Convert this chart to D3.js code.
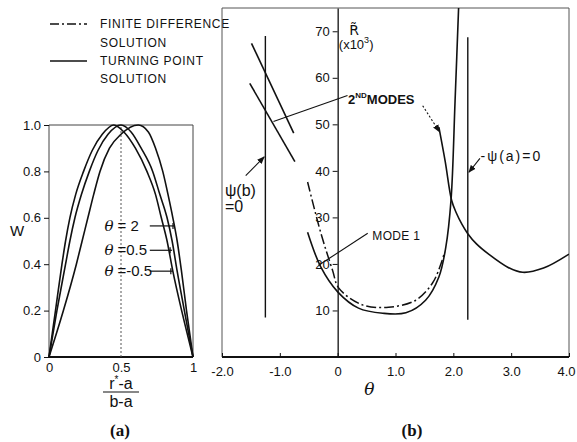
<!DOCTYPE html>
<html>
<head>
<meta charset="utf-8">
<script src="https://cdn.jsdelivr.net/npm/d3@7"></script>
<style>
body{margin:0;background:#fff;}
svg{display:block;font-family:"Liberation Sans",Arial,sans-serif;}
.tick text{font-size:13px;fill:#111;}
</style>
</head>
<body>
<div class="chart"></div>
<script>
//Data
//panel (a): W profiles [x=(r*-a)/(b-a), W]
const profileThetaNeg05 = [[0,0],[0.045,0.2],[0.09,0.4],[0.115,0.5],[0.145,0.6],[0.185,0.7],[0.24,0.8],[0.3,0.89],[0.37,0.96],[0.45,1.0],[0.52,0.97],[0.6,0.9],[0.68,0.8],[0.74,0.7],[0.78,0.6],[0.82,0.5],[0.86,0.37],[0.925,0.19],[1,0]];
const profileTheta05 = [[0,0],[0.055,0.2],[0.115,0.4],[0.145,0.5],[0.18,0.6],[0.225,0.7],[0.28,0.8],[0.34,0.89],[0.41,0.96],[0.5,1.0],[0.57,0.97],[0.64,0.9],[0.72,0.8],[0.77,0.7],[0.82,0.6],[0.855,0.5],[0.89,0.37],[0.94,0.2],[1,0]];
const profileTheta2 = [[0,0],[0.1,0.2],[0.19,0.4],[0.23,0.5],[0.27,0.6],[0.31,0.7],[0.354,0.8],[0.42,0.9],[0.5,0.96],[0.62,1.0],[0.69,0.97],[0.74,0.9],[0.79,0.8],[0.83,0.69],[0.86,0.6],[0.89,0.5],[0.92,0.37],[0.955,0.2],[1,0]];
const wTicks = [0,0.2,0.4,0.6,0.8,1.0];
const wTickLabels = ['0','0.2','0.4','0.6','0.8','1.0'];
const xTicksA = [0,0.5,1];
const xTickLabelsA = ['0','0.5','1'];

//panel (b): R (x10^3) against theta
const mode1Turning = [[-0.52,26.8],[-0.29,19.3],[0,14],[0.36,10.5],[0.78,9.4],[1.18,9.5],[1.52,12.2],[1.75,17.2],[1.87,23.6],[1.96,33.7],[2.03,55],[2.1,78]];
const mode1Finite = [[-0.52,37.6],[-0.29,26.6],[-0.09,18.7],[0.02,14.8],[0.43,11.2],[0.88,10.7],[1.35,12.2],[1.64,15.9],[1.78,19.8],[1.85,22.6]];
const secondModeRight = [[1.75,49.4],[1.86,42],[1.97,33.7],[2.05,31],[2.15,28.5],[2.25,26.5],[2.4,24.3],[2.6,22.2],[2.94,19.3],[3.2,18.2],[3.56,19.1],[4.0,22.1]];
const secondModeLeftUpper = [[-1.49,67.4],[-0.76,48.1]];
const secondModeLeftLower = [[-1.52,58.8],[-0.74,42]];
const psiBLine = [[-1.25,8.5],[-1.25,69]];
const psiALine = [[2.25,8],[2.25,68.7]];
const thetaTicks = [-2,-1,0,1,2,3,4];
const thetaTickLabels = ['-2.0','-1.0','0','1.0','2.0','3.0','4.0'];
const rTicks = [10,20,30,40,50,60,70];

const svg = d3.select('.chart').append('svg')
    .attr('width',577).attr('height',442);
svg.append('rect').attr('width',577).attr('height',442).attr('fill','#fff');

//scales
const xA = d3.scaleLinear().domain([0,1]).range([49,193]);
const yA = d3.scaleLinear().domain([0,1]).range([357,125]);
const xB = d3.scaleLinear().domain([-2,4]).range([222,569]);
const yB = d3.scaleLinear().domain([0,75]).range([357,8]);

const lineA = d3.line().x(d=>xA(d[0])).y(d=>yA(d[1])).curve(d3.curveMonotoneX);
const lineB = d3.line().x(d=>xB(d[0])).y(d=>yB(d[1])).curve(d3.curveCatmullRom.alpha(0.5));
const straightB = d3.line().x(d=>xB(d[0])).y(d=>yB(d[1]));

const defs = svg.append('defs');
//arrow head
defs.append('marker')
    .attr('id','head').attr('viewBox','0 0 10 10')
    .attr('refX',9).attr('refY',5)
    .attr('markerWidth',7).attr('markerHeight',7)
    .attr('orient','auto')
    .append('path').attr('d','M0,1L10,5L0,9Z').attr('fill','#111');
defs.append('clipPath').attr('id','clipB').append('rect')
    .attr('x',xB(-2)).attr('y',yB(75)).attr('width',xB(4)-xB(-2)).attr('height',yB(0)-yB(75));

//Legend
const legend = svg.append('g').attr('class','legend');
legend.append('line').attr('x1',50).attr('x2',87).attr('y1',24).attr('y2',24)
    .attr('stroke','#111').attr('stroke-width',1.3).attr('stroke-dasharray','9,3,2,3');
legend.append('line').attr('x1',50).attr('x2',87).attr('y1',61).attr('y2',61)
    .attr('stroke','#111').attr('stroke-width',1.6);
[['FINITE DIFFERENCE',28],['SOLUTION',47],['TURNING POINT',65],['SOLUTION',83]].forEach(t=>{
    legend.append('text').attr('x',100).attr('y',t[1])
        .style('font-size','12px').style('letter-spacing','0.7px').style('fill','#111')
        .text(t[0]);
});

//---------- panel (a) ----------
const gA = svg.append('g').attr('class','panel-a');
//frame
gA.append('path')
    .attr('d',`M${xA(0)},${yA(0)}V${yA(1)}H${xA(1)}V${yA(0)}`)
    .attr('fill','none').attr('stroke','#444').attr('stroke-width',1);
gA.append('line').attr('x1',xA(0)).attr('x2',xA(1)).attr('y1',yA(0)).attr('y2',yA(0))
    .attr('stroke','#111').attr('stroke-width',2);
//dotted centre line
gA.append('line').attr('x1',xA(0.5)).attr('x2',xA(0.5)).attr('y1',yA(0)).attr('y2',yA(1))
    .attr('stroke','#555').attr('stroke-width',1).attr('stroke-dasharray','2,2');

const yAxisA = d3.axisLeft(yA).tickValues(wTicks)
    .tickFormat((d,i)=>wTickLabels[i]).tickSizeInner(5).tickSizeOuter(0).tickPadding(3);
gA.append('g').attr('transform',`translate(${xA(0)},0)`).call(yAxisA)
    .call(g=>g.select('.domain').remove())
    .call(g=>g.selectAll('.tick line').attr('stroke','#111'));
const xAxisA = d3.axisBottom(xA).tickValues(xTicksA)
    .tickFormat((d,i)=>xTickLabelsA[i]).tickSize(0).tickPadding(6);
gA.append('g').attr('transform',`translate(0,${yA(0)})`).call(xAxisA)
    .call(g=>g.select('.domain').remove());

[profileThetaNeg05,profileTheta05,profileTheta2].forEach(p=>{
    gA.append('path').datum(p).attr('d',lineA)
        .attr('fill','none').attr('stroke','#111').attr('stroke-width',1.6);
});

//theta labels with pointers [label, W of arrow, x end of arrow]
const thetaLabels = [['= 2',0.565,0.875],['=0.5',0.46,0.855],['=-0.5',0.37,0.86]];
thetaLabels.forEach(t=>{
    const y = yA(t[1]);
    const tx = gA.append('text').attr('x',xA(0.385)).attr('y',y+5)
        .style('font-size','15px').style('fill','#111');
    tx.append('tspan').style('font-style','italic').style('font-family','"DejaVu Serif",serif').text('θ');
    tx.append('tspan').attr('dx',4).text(t[0]);
    gA.append('line').attr('x1',xA(0.7)).attr('x2',xA(t[2])).attr('y1',y).attr('y2',y)
        .attr('stroke','#111').attr('stroke-width',1.2);
    gA.append('line').attr('x1',xA(t[2])-2).attr('x2',xA(t[2])-2).attr('y1',y-3).attr('y2',y+3)
        .attr('stroke','#111').attr('stroke-width',1.2);
});

gA.append('text').attr('x',10).attr('y',yA(0.52)).style('font-size','15px').style('fill','#111').text('W');
//x label as a fraction
const fx = xA(0.5);
const num = gA.append('text').attr('x',fx).attr('y',389).attr('text-anchor','middle')
    .style('font-size','16px').style('fill','#111');
num.append('tspan').text('r');
num.append('tspan').attr('dy',-6).style('font-size','10px').text('*');
num.append('tspan').attr('dy',6).text('-a');
gA.append('line').attr('x1',fx-18).attr('x2',fx+18).attr('y1',392).attr('y2',392)
    .attr('stroke','#111').attr('stroke-width',1.2);
gA.append('text').attr('x',fx).attr('y',407).attr('text-anchor','middle')
    .style('font-size','16px').style('fill','#111').text('b-a');
svg.append('text').attr('x',120).attr('y',436).attr('text-anchor','middle')
    .style('font-family','"Liberation Serif","DejaVu Serif",serif').style('font-weight','bold')
    .style('font-size','17px').style('fill','#111').text('(a)');

//---------- panel (b) ----------
const gB = svg.append('g').attr('class','panel-b');
gB.append('path')
    .attr('d',`M${xB(-2)},${yB(0)}V${yB(75)}H${xB(4)}V${yB(0)}`)
    .attr('fill','none').attr('stroke','#555').attr('stroke-width',1);
gB.append('line').attr('x1',xB(-2)).attr('x2',xB(4)).attr('y1',yB(0)).attr('y2',yB(0))
    .attr('stroke','#111').attr('stroke-width',2);

const xAxisB = d3.axisBottom(xB).tickValues(thetaTicks)
    .tickFormat((d,i)=>thetaTickLabels[i]).tickSizeInner(-4).tickSizeOuter(0).tickPadding(10);
gB.append('g').attr('transform',`translate(0,${yB(0)})`).call(xAxisB)
    .call(g=>g.select('.domain').remove())
    .call(g=>g.selectAll('.tick line').attr('stroke','#111'))
    .call(g=>g.selectAll('.tick:last-of-type text').attr('dx',-3));
const yAxisB = d3.axisLeft(yB).tickValues(rTicks).tickSizeInner(5).tickSizeOuter(0).tickPadding(3);
gB.append('g').attr('transform',`translate(${xB(0)},0)`).call(yAxisB)
    .call(g=>g.select('.domain').attr('stroke','#111').attr('stroke-width',1.3))
    .call(g=>g.selectAll('.tick line').attr('stroke','#111'));

const plot = gB.append('g').attr('clip-path','url(#clipB)');
//boundary lines
[psiBLine,psiALine].forEach(l=>{
    plot.append('path').datum(l).attr('d',straightB)
        .attr('fill','none').attr('stroke','#111').attr('stroke-width',1.4);
});
//curves
[mode1Turning,secondModeRight].forEach(c=>{
    plot.append('path').datum(c).attr('d',lineB)
        .attr('fill','none').attr('stroke','#111').attr('stroke-width',1.6);
});
plot.append('path').datum(mode1Finite).attr('d',lineB)
    .attr('fill','none').attr('stroke','#111').attr('stroke-width',1.5)
    .attr('stroke-dasharray','10,3,2,3');
[secondModeLeftUpper,secondModeLeftLower].forEach(c=>{
    plot.append('path').datum(c).attr('d',straightB)
        .attr('fill','none').attr('stroke','#111').attr('stroke-width',1.6);
});

//annotations
const pointer = (a,b,head,dash)=>{
    const p = gB.append('line')
        .attr('x1',xB(a[0])).attr('y1',yB(a[1]))
        .attr('x2',xB(b[0])).attr('y2',yB(b[1]))
        .attr('stroke','#111').attr('stroke-width',1.1);
    if(head) p.attr('marker-end','url(#head)');
    if(dash) p.attr('stroke-dasharray',dash);
};
pointer([0.17,56.2],[-1.11,50.6]);
pointer([1.47,54],[1.76,48.4],true,'2,2');
pointer([0.52,26.6],[-0.33,19.7]);
pointer([-1.59,39],[-1.27,43],true);
pointer([2.46,42.7],[2.27,39.7],true);

const txt = (x,y,s,size)=>gB.append('text').attr('x',x).attr('y',y)
    .style('font-size',size||'13px').style('fill','#111').text(s);

const modes = gB.append('text').attr('x',xB(0.18)).attr('y',yB(54.3))
    .style('font-size','13px').style('font-weight','bold').style('fill','#111');
modes.append('tspan').text('2');
modes.append('tspan').attr('dy',-6).style('font-size','8px').text('ND');
modes.append('tspan').attr('dy',6).text('MODES');
txt(xB(0.6),yB(25.2),'MODE 1','12px').style('letter-spacing','0.3px');

//R-tilde label (R with combining tilde)
gB.append('text').attr('x',xB(0.2)).attr('y',yB(69.3))
    .style('font-family','"DejaVu Sans",sans-serif')
    .style('font-size','14px').style('fill','#111').text('R\u0303');
const unit = gB.append('text').attr('x',xB(0.02)).attr('y',yB(66.2))
    .style('font-size','13px').style('fill','#111');
unit.append('tspan').text('(x10');
unit.append('tspan').attr('dy',-6).style('font-size','9px').text('3');
unit.append('tspan').attr('dy',6).text(')');

txt(xB(-1.95),yB(34.7),'ψ(b)','16px');
txt(xB(-1.95),yB(31.1),'=0','16px');
txt(xB(2.47),yB(42.2),'-ψ(a)=0','14px').style('letter-spacing','2px');

gB.append('text').attr('x',xB(0.55)).attr('y',395).attr('text-anchor','middle')
    .style('font-family','"DejaVu Serif",serif').style('font-style','italic')
    .style('font-size','17px').style('fill','#111').text('θ');
svg.append('text').attr('x',412).attr('y',436).attr('text-anchor','middle')
    .style('font-family','"Liberation Serif","DejaVu Serif",serif').style('font-weight','bold')
    .style('font-size','17px').style('fill','#111').text('(b)');
</script>
</body>
</html>
